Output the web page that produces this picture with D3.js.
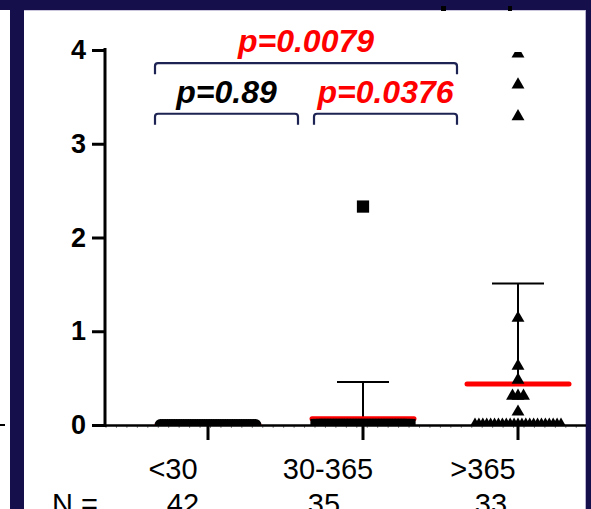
<!DOCTYPE html>
<html lang="en">
<head>
    <meta charset="UTF-8">
    <title>Chart</title>
    <script src="https://cdn.jsdelivr.net/npm/d3@7"></script>
    <style>
        body { margin: 0; background: #fff; }
        svg { display: block; }
    </style>
</head>
<body>
    <script>

        var w = 591;
        var h = 509;

        // groups on the x axis and their N
        var categories = ['<30', '30-365', '>365'];
        var counts = [42, 35, 33];

        // individual values
        var groupLess30 = [0, 0, 0, 0, 0, 0, 0, 0, 0, 0, 0, 0, 0, 0, 0, 0, 0, 0, 0, 0, 0,
                           0, 0, 0, 0, 0, 0, 0, 0, 0, 0, 0, 0, 0, 0, 0, 0, 0, 0, 0, 0, 0];
        var group30to365 = [2.33, 0, 0, 0, 0, 0, 0, 0, 0, 0, 0, 0, 0, 0, 0, 0, 0, 0,
                            0, 0, 0, 0, 0, 0, 0, 0, 0, 0, 0, 0, 0, 0, 0, 0, 0];
        var groupOver365 = [3.96, 3.63, 3.29, 1.14, 0.63, 0.48, 0.31, 0.31, 0.31, 0.14,
                            0, 0, 0, 0, 0, 0, 0, 0, 0, 0, 0, 0, 0, 0, 0, 0, 0, 0, 0, 0, 0, 0, 0];

        // mean line and mean+SD whisker
        var means = [0, 0.067, 0.437];
        var upperSD = [0, 0.46, 1.51];

        var yTicks = [0, 1, 2, 3, 4];

        // comparisons
        var pPairs = [['<30', '>365'], ['<30', '30-365'], ['30-365', '>365']];
        var pLabels = ['p=0.0079', 'p=0.89', 'p=0.0376'];
        var pValues = [0.0079, 0.89, 0.0376];

        var groups = [groupLess30, group30to365, groupOver365];
        var shapes = [d3.symbolCircle, d3.symbolSquare, d3.symbolTriangle];
        var shapeSizes = [113, 150, 72];

        var navy = '#150f4b';
        var red = '#ff0000';
        var font = '"Liberation Sans", Arial, sans-serif';

        var svg = d3.select('body').append('svg')
            .attr('width', w).attr('height', h);

        svg.append('rect').attr('width', w).attr('height', h).attr('fill', '#fff');

        // slide frame
        svg.append('rect').attr('x', 0).attr('y', 0).attr('width', w).attr('height', 10).attr('fill', navy);
        svg.append('rect').attr('x', 10).attr('y', 0).attr('width', 14).attr('height', h).attr('fill', navy);
        svg.append('rect').attr('x', 586).attr('y', 0).attr('width', 5).attr('height', h).attr('fill', navy);
        svg.append('line').attr('x1', 24).attr('x2', 586).attr('y1', 10.5).attr('y2', 10.5)
            .attr('stroke', '#c9c6de').attr('stroke-width', 1);
        svg.append('line').attr('x1', 585.5).attr('x2', 585.5).attr('y1', 10).attr('y2', h)
            .attr('stroke', '#b7b3d0').attr('stroke-width', 1);
        // bits of cut-off text at the top edge
        svg.append('rect').attr('x', 441).attr('y', 6).attr('width', 5).attr('height', 5).attr('fill', '#000');
        svg.append('rect').attr('x', 508).attr('y', 6).attr('width', 4).attr('height', 5).attr('fill', '#000');
        svg.append('line').attr('x1', 0).attr('x2', 5).attr('y1', 425).attr('y2', 425)
            .attr('stroke', '#000').attr('stroke-width', 2);

        var x = d3.scalePoint().domain(categories).range([208, 518]);
        var y = d3.scaleLinear().domain([0, 4]).range([425, 50]);

        // clip markers at the axes like Prism does
        svg.append('clipPath').attr('id', 'plotclip')
            .append('rect').attr('x', 106).attr('y', y(4) + 2)
            .attr('width', 480).attr('height', y(0) - y(4) - 2);

        // x axis with minor ticks
        var minor = d3.range(106, 586, 10.45);
        svg.selectAll('.minor').data(minor).enter().append('line')
            .attr('x1', function(d) { return d; }).attr('x2', function(d) { return d; })
            .attr('y1', y(0)).attr('y2', y(0) + 3)
            .attr('stroke', '#888').attr('stroke-width', 1);

        svg.append('line').attr('x1', 104).attr('x2', 586).attr('y1', y(0) + 0.5).attr('y2', y(0) + 0.5)
            .attr('stroke', '#000').attr('stroke-width', 2.5);

        svg.selectAll('.xtick').data(categories).enter().append('line')
            .attr('x1', function(d) { return x(d); }).attr('x2', function(d) { return x(d); })
            .attr('y1', y(0)).attr('y2', y(0) + 15)
            .attr('stroke', '#000').attr('stroke-width', 3);

        // y axis
        var yAxis = d3.axisLeft(y).tickValues(yTicks).tickFormat(d3.format('d')).tickSize(13).tickPadding(6);
        var yg = svg.append('g').attr('transform', 'translate(105,0)').call(yAxis);
        yg.select('.domain').attr('stroke', '#000').attr('stroke-width', 3)
            .attr('d', 'M0,' + (y(4) - 2) + 'V' + (y(0) + 2));
        yg.selectAll('.tick line').attr('stroke', '#000').attr('stroke-width', 3);
        yg.selectAll('.tick text')
            .attr('fill', '#000')
            .style('font-family', font)
            .style('font-size', '27px').style('font-weight', 'bold');

        var plot = svg.append('g').attr('clip-path', 'url(#plotclip)');

        // whiskers: mean up to mean+SD with a cap
        categories.forEach(function(c, i) {
            if (upperSD[i] <= means[i]) return;
            plot.append('line').attr('x1', x(c)).attr('x2', x(c))
                .attr('y1', y(means[i])).attr('y2', y(upperSD[i]))
                .attr('stroke', '#000').attr('stroke-width', 2);
            plot.append('line').attr('x1', x(c) - 26).attr('x2', x(c) + 26)
                .attr('y1', y(upperSD[i])).attr('y2', y(upperSD[i]))
                .attr('stroke', '#000').attr('stroke-width', 2);
        });

        // mean lines
        plot.selectAll('.mean').data(categories).enter().append('line')
            .attr('x1', function(d) { return x(d) - 51; })
            .attr('x2', function(d) { return x(d) + 51; })
            .attr('y1', function(d, i) { return y(means[i]); })
            .attr('y2', function(d, i) { return y(means[i]); })
            .attr('stroke', red).attr('stroke-width', 5).attr('stroke-linecap', 'round');

        // spread equal values side by side
        function spread(values, width, maxStep) {
            var seen = {};
            values.forEach(function(v) { seen[v] = (seen[v] || 0) + 1; });
            var idx = {};
            return values.map(function(v) {
                var n = seen[v];
                idx[v] = (idx[v] || 0);
                var k = idx[v]++;
                var step = n > 1 ? Math.min(maxStep, width / (n - 1)) : 0;
                return { value: v, dx: (k - (n - 1) / 2) * step };
            });
        }

        var spreadWidths = [95, 93, 86];
        groups.forEach(function(vals, i) {
            var pts = spread(vals, spreadWidths[i], 5.5);
            plot.selectAll('.pt' + i).data(pts).enter().append('path')
                .attr('d', d3.symbol().type(shapes[i]).size(shapeSizes[i]))
                .attr('transform', function(d) {
                    return 'translate(' + (x(categories[i]) + d.dx) + ',' + y(d.value) + ')';
                })
                .attr('fill', '#000');
        });

        // significance brackets
        var bracketLevels = [3.86, 3.32, 3.32];
        pPairs.forEach(function(pair, i) {
            var x1 = x(pair[0]) - 53;
            var x2 = x(pair[1]) - 61;
            if (i === 2) x1 += 4;
            if (i === 1) x2 -= 4;
            var by = y(bracketLevels[i]);
            var r = 3;
            svg.append('path')
                .attr('d', 'M' + x1 + ',' + (by + 11) + 'V' + (by + r) + 'Q' + x1 + ',' + by + ' ' + (x1 + r) + ',' + by +
                           'H' + (x2 - r) + 'Q' + x2 + ',' + by + ' ' + x2 + ',' + (by + r) + 'V' + (by + 11))
                .attr('fill', 'none').attr('stroke', '#1d2352').attr('stroke-width', 2.2);
            svg.append('text')
                .attr('x', (x1 + x2) / 2).attr('y', by - 11)
                .attr('text-anchor', 'middle')
                .style('font-family', font)
                .style('font-size', '32px').style('font-weight', 'bold').style('font-style', 'italic')
                .attr('fill', pValues[i] < 0.05 ? red : '#000')
                .text(pLabels[i]);
        });

        // category labels and N row (the N row is cut by the bottom edge)
        svg.selectAll('.cat').data(categories).enter().append('text')
            .attr('x', function(d) { return x(d) - 35; })
            .attr('y', 479)
            .attr('text-anchor', 'middle')
            .style('font-family', font)
            .style('font-size', '29px')
            .attr('fill', '#000')
            .text(function(d) { return d; });

        svg.append('text').attr('x', 52).attr('y', 514)
            .style('font-family', font)
            .style('font-size', '29px').attr('fill', '#000').text('N =');

        var nShift = [-25, -39, -27];
        svg.selectAll('.nval').data(counts).enter().append('text')
            .attr('x', function(d, i) { return x(categories[i]) + nShift[i]; })
            .attr('y', 514)
            .attr('text-anchor', 'middle')
            .style('font-family', font)
            .style('font-size', '29px')
            .attr('fill', '#000')
            .text(function(d) { return d; });

    </script>
</body>
</html>
